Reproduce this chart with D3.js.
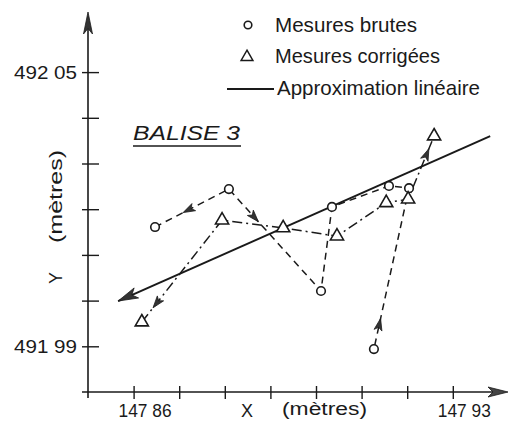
<!DOCTYPE html>
<html><head><meta charset="utf-8">
<script src="https://cdn.jsdelivr.net/npm/d3@7"></script>
<style>
html,body{margin:0;padding:0;background:#fff;}
svg{display:block;}
text{font-family:"Liberation Sans","DejaVu Sans",sans-serif;fill:#1a1a1a;}
</style></head>
<body>
<svg id="chart" width="509" height="423"></svg>
<script>
// ---- data ----
const xTickValues = [147.86, 147.87, 147.88, 147.89, 147.90, 147.91, 147.92, 147.93];
const xTickLabels = ["147 86", "", "", "", "", "", "", "147 93"];
const yTickValues = [491.99, 492.00, 492.01, 492.02, 492.03, 492.04, 492.05];
const yTickLabels = ["491 99", "", "", "", "", "", "492 05"];

// Mesures brutes (circles)
const rawX = [147.8647, 147.8809, 147.9011, 147.9035, 147.9160, 147.9204, 147.9127];
const rawY = [492.0161, 492.0244, 492.0021, 492.0205, 492.0251, 492.0246, 491.9894];
// Mesures corrigées (triangles)
const corrX = [147.8618, 147.8794, 147.8928, 147.9046, 147.9154, 147.9202, 147.9259];
const corrY = [491.9953, 492.0176, 492.0159, 492.0141, 492.0214, 492.0222, 492.0360];
// Approximation linéaire (end points)
const fitX = [147.8566, 147.9382];
const fitY = [491.9999, 492.0360];

const legendLabels = ["Mesures brutes", "Mesures corrigées", "Approximation linéaire"];
const chartTitle = "BALISE 3";

// ---- drawing ----
const ink = "#1a1a1a";
const svg = d3.select("#chart");
const x = d3.scaleLinear().domain([147.85, 147.94]).range([88, 498.4]);
const y = d3.scaleLinear().domain([491.98, 492.06]).range([392, 26.4]);

// axes lines with arrows
const x0 = x(147.85), y0 = y(491.98);
svg.append("line").attr("x1", x0).attr("x2", x0).attr("y1", y0 + 6).attr("y2", 20)
  .attr("stroke", ink).attr("stroke-width", 1.6);
svg.append("line").attr("x1", x0 - 6).attr("x2", 500).attr("y1", y0).attr("y2", y0)
  .attr("stroke", ink).attr("stroke-width", 1.6);

function arrowPath(tx, ty, dx, dy, len, hw) {
  const n = Math.hypot(dx, dy); dx /= n; dy /= n;
  const px = -dy, py = dx;
  const bx = tx - dx * len, by = ty - dy * len;
  const nx = tx - dx * len * 0.75, ny = ty - dy * len * 0.75;
  return `M${tx},${ty}L${bx + px * hw},${by + py * hw}L${nx},${ny}L${bx - px * hw},${by - py * hw}Z`;
}
svg.append("path").attr("d", arrowPath(x0, 12, 0, -1, 22, 4.5)).attr("fill", "#333").attr("stroke", ink).attr("stroke-width", 0.8);
svg.append("path").attr("d", arrowPath(508, y0, 1, 0, 20, 5)).attr("fill", "#444").attr("stroke", ink).attr("stroke-width", 0.8);

// x axis ticks
const gx = svg.append("g").attr("transform", `translate(0,${y0})`)
  .call(d3.axisBottom(x).tickValues(xTickValues).tickFormat((d, i) => xTickLabels[i]).tickSizeOuter(0));
gx.select(".domain").remove();
gx.selectAll(".tick line").attr("y1", -6).attr("y2", 7).attr("stroke", ink).attr("stroke-width", 1.4);
gx.selectAll(".tick text").attr("y", 25).attr("dy", 0).attr("dx", 11)
  .attr("font-size", 18).attr("fill", ink)
  .style("font-family", "'Liberation Sans',sans-serif")
  .each(function (d, i) { if (xTickLabels[i]) d3.select(this).attr("textLength", 53).attr("lengthAdjust", "spacingAndGlyphs"); });

// y axis ticks
const gy = svg.append("g").attr("transform", `translate(${x0},0)`)
  .call(d3.axisLeft(y).tickValues(yTickValues).tickFormat((d, i) => yTickLabels[i]).tickSizeOuter(0));
gy.select(".domain").remove();
gy.selectAll(".tick line").attr("x1", -6).attr("x2", 11).attr("stroke", ink).attr("stroke-width", 1.4);
gy.selectAll(".tick text").attr("x", -11).attr("dy", "0.36em")
  .attr("font-size", 18).attr("fill", ink)
  .style("font-family", "'Liberation Sans',sans-serif")
  .each(function (d, i) { if (yTickLabels[i]) d3.select(this).attr("textLength", 63).attr("lengthAdjust", "spacingAndGlyphs"); });

// axis titles
svg.append("text").attr("x", 247).attr("y", 417).attr("text-anchor", "middle").attr("font-size", 18).text("X");
svg.append("text").attr("x", 282).attr("y", 415).attr("font-size", 18)
  .attr("textLength", 85).attr("lengthAdjust", "spacingAndGlyphs").text("(mètres)");
svg.append("text").attr("transform", "translate(62,278) rotate(-90)").attr("text-anchor", "middle").attr("font-size", 18).text("Y");
svg.append("text").attr("transform", "translate(62,243) rotate(-90)").attr("font-size", 18)
  .attr("textLength", 93).attr("lengthAdjust", "spacingAndGlyphs").text("(mètres)");

// regression line
const fitPts = fitX.map((v, i) => [x(v), y(fitY[i])]);
svg.append("line").attr("x1", fitPts[0][0]).attr("y1", fitPts[0][1]).attr("x2", fitPts[1][0]).attr("y2", fitPts[1][1])
  .attr("stroke", ink).attr("stroke-width", 2);
svg.append("path").attr("d", arrowPath(fitPts[0][0], fitPts[0][1], fitPts[0][0] - fitPts[1][0], fitPts[0][1] - fitPts[1][1], 20, 5.5))
  .attr("fill", "#333").attr("stroke", ink).attr("stroke-width", 0.8);

// series
const rawPts = rawX.map((v, i) => [x(v), y(rawY[i])]);
const corrPts = corrX.map((v, i) => [x(v), y(corrY[i])]);
const line = d3.line();
svg.append("path").attr("d", line(rawPts)).attr("fill", "none").attr("stroke", ink)
  .attr("stroke-width", 1.5).attr("stroke-dasharray", "7,5");
svg.append("path").attr("d", line(corrPts)).attr("fill", "none").attr("stroke", ink)
  .attr("stroke-width", 1.5).attr("stroke-dasharray", "10,4,2,4");

// direction arrows on segments
const arrowMarks = [
  { pts: rawPts, seg: 0, t: 0.38, dir: -1 },
  { pts: rawPts, seg: 1, t: 0.32, dir: 1 },
  { pts: rawPts, seg: 5, t: 0.81, dir: -1 },
  { pts: corrPts, seg: 0, t: 0.14, dir: -1 },
  { pts: corrPts, seg: 5, t: 0.8, dir: 1 }
];
arrowMarks.forEach(a => {
  const p = a.pts[a.seg], q = a.pts[a.seg + 1];
  const tx = p[0] + (q[0] - p[0]) * a.t, ty = p[1] + (q[1] - p[1]) * a.t;
  const dx = (q[0] - p[0]) * a.dir, dy = (q[1] - p[1]) * a.dir;
  svg.append("path").attr("d", arrowPath(tx, ty, dx, dy, 12, 4)).attr("fill", "#333").attr("stroke", ink).attr("stroke-width", 0.8);
});

// markers
svg.selectAll("circle.raw").data(rawPts).join("circle").attr("class", "raw")
  .attr("cx", d => d[0]).attr("cy", d => d[1]).attr("r", 4.3)
  .attr("fill", "#fff").attr("stroke", ink).attr("stroke-width", 1.6);
const tri = d3.symbol(d3.symbolTriangle, 75);
svg.selectAll("path.corr").data(corrPts).join("path").attr("class", "corr")
  .attr("transform", d => `translate(${d[0]},${d[1]})`).attr("d", tri())
  .attr("fill", "#fff").attr("stroke", ink).attr("stroke-width", 1.6);

// legend
svg.append("circle").attr("cx", 248).attr("cy", 25).attr("r", 3.8).attr("fill", "#fff").attr("stroke", ink).attr("stroke-width", 1.6);
svg.append("path").attr("transform", "translate(247,57)").attr("d", d3.symbol(d3.symbolTriangle, 60)())
  .attr("fill", "#fff").attr("stroke", ink).attr("stroke-width", 1.5);
svg.append("line").attr("x1", 227).attr("x2", 274).attr("y1", 89).attr("y2", 89).attr("stroke", ink).attr("stroke-width", 2);
const legY = [32, 63, 95], legX = [275, 275, 277], legW = [142, 165, 203];
legendLabels.forEach((t, i) => {
  svg.append("text").attr("x", legX[i]).attr("y", legY[i]).attr("font-size", 21)
    .attr("textLength", legW[i]).attr("lengthAdjust", "spacingAndGlyphs").text(t);
});

// title
svg.append("text").attr("x", 133).attr("y", 140).attr("font-size", 20).attr("font-style", "italic")
  .attr("textLength", 107).attr("lengthAdjust", "spacingAndGlyphs").text(chartTitle);
svg.append("line").attr("x1", 133).attr("x2", 241).attr("y1", 146).attr("y2", 146).attr("stroke", ink).attr("stroke-width", 1.5);
</script>
</body></html>
